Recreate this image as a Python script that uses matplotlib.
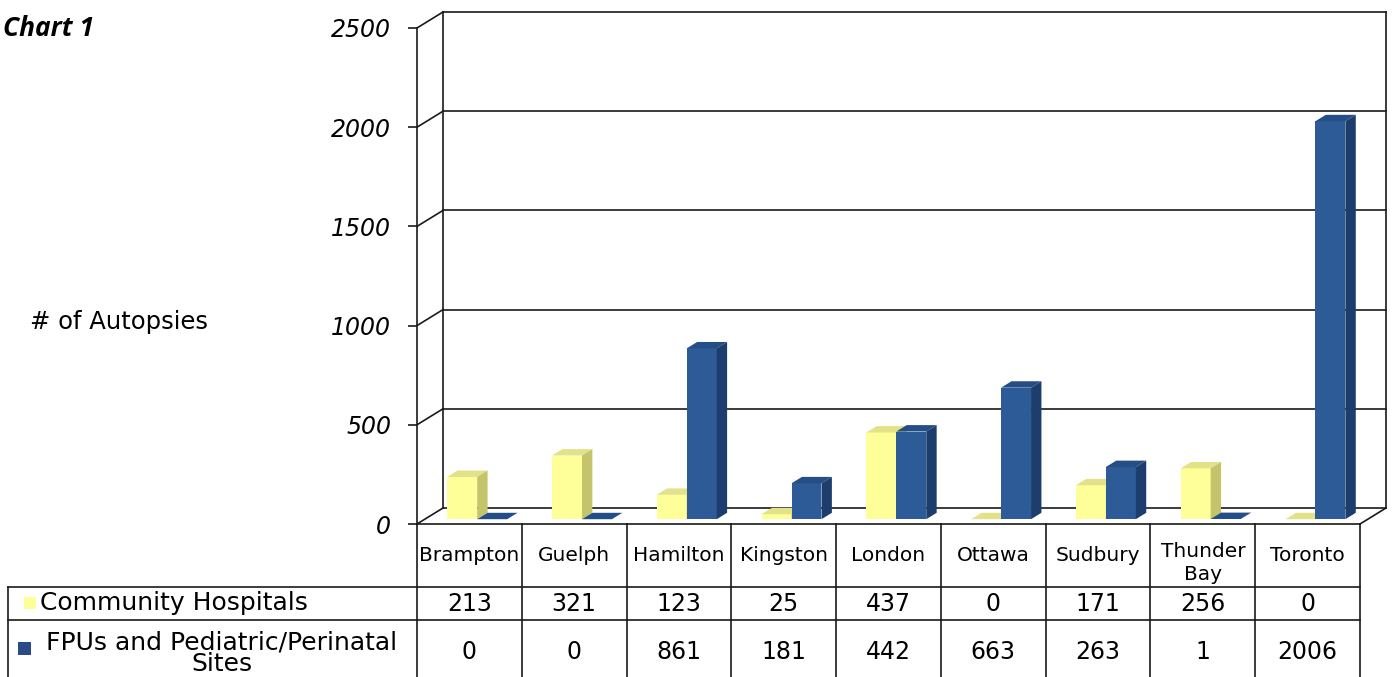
import matplotlib
matplotlib.use('Agg')
import matplotlib.pyplot as plt
from matplotlib.patches import Polygon, Rectangle
from matplotlib.lines import Line2D
from matplotlib.transforms import blended_transform_factory

cities = ['Brampton', 'Guelph', 'Hamilton', 'Kingston', 'London',
          'Ottawa', 'Sudbury', 'Thunder\nBay', 'Toronto']
community = [213, 321, 123, 25, 437, 0, 171, 256, 0]
fpu = [0, 0, 861, 181, 442, 663, 263, 1, 2006]
series_names = ['Community Hospitals', 'FPUs and Pediatric/Perinatal\nSites']
yticks = [0, 500, 1000, 1500, 2000, 2500]

# front, top, side colours
yellow = ('#FFFF99', '#E2E288', '#C4C46A')
blue = ('#2D5B98', '#264E86', '#1D3E6C')

W, H = 1395, 677
fig = plt.figure(figsize=(W / 100, H / 100), dpi=100)


def fx(px):
    return px / W


def fy(py):
    return 1 - py / H


left_px, right_px, base_px, top_px = 417, 1360, 524, 28
ax = fig.add_axes([fx(left_px), fy(base_px), (right_px - left_px) / W,
                   (base_px - top_px) / H])
n = len(cities)
ymax = yticks[-1]
ax.set_xlim(-0.5, n - 0.5)
ax.set_ylim(0, ymax)

# depth of the fake 3d box, in data units
DX = 26 / ((right_px - left_px) / n)
DY = 16 / ((base_px - top_px) / ymax)

lc = '#1a1a1a'
lw = 1.2
x0, x1 = -0.5, n - 0.5
for v in yticks:
    ax.plot([x0, x0 + DX], [v, v + DY], color=lc, lw=lw, clip_on=False, zorder=1)
    ax.plot([x0 + DX, x1 + DX], [v + DY, v + DY], color=lc, lw=lw, clip_on=False, zorder=1)
ax.plot([x0 + DX, x0 + DX], [DY, ymax + DY], color=lc, lw=lw, clip_on=False, zorder=1)
ax.plot([x1 + DX, x1 + DX], [DY, ymax + DY], color=lc, lw=lw, clip_on=False, zorder=1)
ax.plot([x0, x1], [0, 0], color=lc, lw=lw, clip_on=False, zorder=1)
ax.plot([x1, x1 + DX], [0, DY], color=lc, lw=lw, clip_on=False, zorder=1)

# bars
w = 0.286
d0, d1 = 0.3, 0.7
dd = d1 - d0
for vals, off, cols in [(community, -w / 2, yellow), (fpu, w / 2, blue)]:
    xs = [i + off + d0 * DX for i in range(n)]
    bars = ax.bar(xs, vals, width=w, bottom=d0 * DY, color=cols[0],
                  edgecolor='none', zorder=3)
    for b in bars:
        bx0 = b.get_x()
        bx1 = bx0 + b.get_width()
        yb = b.get_y()
        yt = yb + b.get_height()
        top = Polygon([(bx0, yt), (bx1, yt), (bx1 + dd * DX, yt + dd * DY),
                       (bx0 + dd * DX, yt + dd * DY)], closed=True,
                      facecolor=cols[1], edgecolor='none', zorder=3)
        side = Polygon([(bx1, yb), (bx1, yt), (bx1 + dd * DX, yt + dd * DY),
                        (bx1 + dd * DX, yb + dd * DY)], closed=True,
                       facecolor=cols[2], edgecolor='none', zorder=3)
        ax.add_patch(top)
        ax.add_patch(side)

for s in ['top', 'right', 'bottom']:
    ax.spines[s].set_visible(False)
ax.spines['left'].set_color(lc)
ax.spines['left'].set_linewidth(lw)
ax.set_xticks([])
ax.set_yticks(yticks)
ax.tick_params(axis='y', length=6.5, width=lw, color=lc, pad=12, labelsize=17)
for lbl in ax.get_yticklabels():
    lbl.set_style('italic')
ax.patch.set_alpha(0)

# data table below the plot
tx = blended_transform_factory(ax.transData, fig.transFigure)
for i in range(n + 1):
    ax.plot([i - 0.5, i - 0.5], [fy(524), fy(677)], color=lc, lw=lw,
            transform=tx, clip_on=False)
for py in [587, 620]:
    fig.add_artist(Line2D([fx(8), fx(1360)], [fy(py), fy(py)], color=lc, lw=lw))
fig.add_artist(Line2D([fx(8), fx(8)], [fy(587), fy(677)], color=lc, lw=lw))

for i, name in enumerate(cities):
    # baseline of the last line of the label
    base = 580 if '\n' in name else 561
    ax.text(i, fy(base), name, transform=tx, ha='center', va='baseline',
            fontsize=14.5, linespacing=1.25)
    ax.text(i, fy(611), str(community[i]), transform=tx, ha='center',
            va='baseline', fontsize=17)
    ax.text(i, fy(659), str(fpu[i]), transform=tx, ha='center',
            va='baseline', fontsize=17)

fig.add_artist(Rectangle((fx(24), fy(609)), fx(12), 12 / H, transform=fig.transFigure,
                         facecolor=yellow[0], edgecolor='none'))
fig.text(fx(40), fy(610), series_names[0], ha='left', va='baseline', fontsize=18)
fig.add_artist(Rectangle((fx(18), fy(655)), fx(13), 13 / H, transform=fig.transFigure,
                         facecolor='#2D4A86', edgecolor='none'))
fig.text(fx(222), fy(671), series_names[1], ha='center', va='baseline',
         fontsize=18, multialignment='center', linespacing=0.85)

fig.text(fx(30), fy(329), '# of Autopsies', ha='left', va='baseline', fontsize=17.5)
fig.text(fx(3), fy(36), 'Chart 1', ha='left', va='baseline', fontsize=19,
         family=['Open Sans', 'DejaVu Sans'], weight='bold', style='italic')

fig.savefig('out.png', dpi=100)
